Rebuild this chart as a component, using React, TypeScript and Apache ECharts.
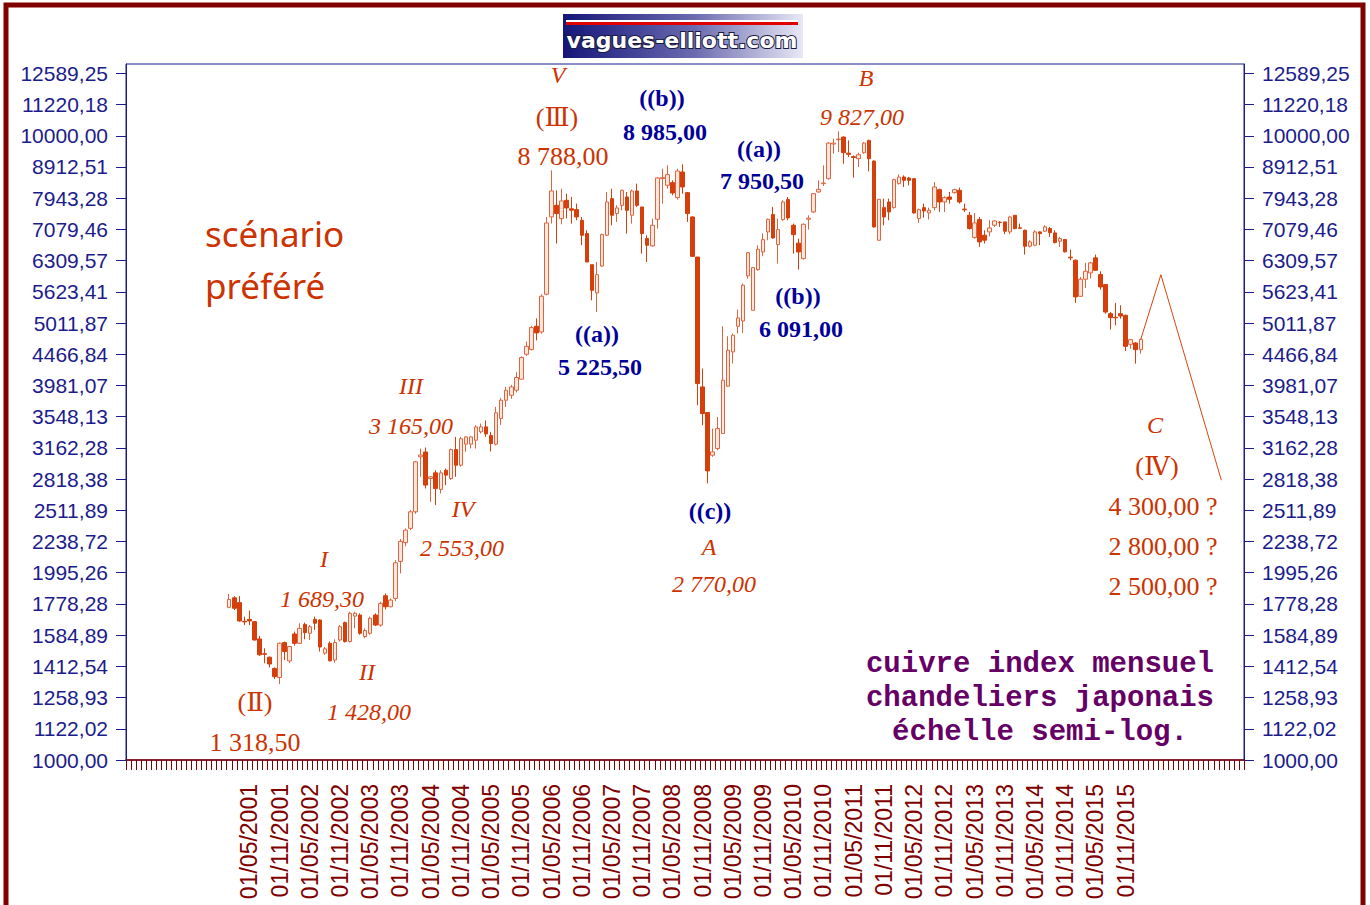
import React, { useEffect, useRef } from 'react';
import * as echarts from 'echarts';

// x axis: monthly categories, May 1999 .. Oct 2017
const firstYear = 1999;
const firstMonth = 5;
const monthCount = 222;
const dataStartIndex = 20; // Jan 2001
const labelFirstIndex = 24; // 01/05/2001
const labelLastIndex = 198; // 01/11/2015

// monthly copper index candles, Jan 2001 .. Feb 2016
const opens = [
  1756, 1819, 1787, 1668, 1680, 1666, 1563, 1480, 1461, 1402, 1356, 1542,
  1441, 1592, 1538, 1649, 1596, 1680, 1676, 1483, 1538, 1446, 1557, 1660,
  1548, 1700, 1707, 1577, 1596, 1707, 1645, 1833, 1760, 1815, 2080, 2230,
  2350, 2498, 3060, 3115, 2825, 2884, 2713, 2912, 2825, 3143, 2967, 3206,
  3206, 3253, 3355, 3417, 3310, 3206, 3525, 3770, 3840, 3912, 4074, 4467,
  4545, 4953, 4850, 5573, 7413, 7738, 7368, 7882, 7640, 7616, 7323, 6972,
  6216, 5600, 6185, 6929, 7931, 7505, 7738, 7980, 7459, 8158, 7691, 6845,
  6662, 7350, 8540, 8330, 8412, 7960, 8750, 8108, 7413, 6394, 3960, 3602,
  3078, 3155, 3334, 3970, 4505, 4953, 5051, 5964, 5253, 6105, 6515, 7014,
  7477, 6693, 7341, 7902, 7189, 6730, 6357, 7350, 7551, 8128, 8381, 8537,
  9700, 9860, 9953, 9380, 9260, 9189, 9395, 9832, 9110, 6801, 7672, 7834,
  7672, 8381, 8589, 8558, 8537, 7368, 7672, 7523, 7672, 8198, 7834, 7980,
  8108, 8178, 7630, 7459, 6869, 7341, 6929, 7015, 7189, 7270, 7278, 7015,
  7459, 7120, 7058, 6654, 6679, 7015, 7032, 7101, 6989, 6778, 6820, 6390,
  6319, 5532, 5891, 6030, 6374, 5993, 5776, 5188, 5120, 5188, 5157, 4633,
  4656, 4543,
];
const closes = [
  1808, 1750, 1670, 1664, 1670, 1557, 1474, 1477, 1425, 1360, 1538, 1492,
  1520, 1538, 1625, 1600, 1635, 1656, 1517, 1507, 1442, 1542, 1635, 1548,
  1718, 1718, 1596, 1612, 1687, 1645, 1782, 1760, 1804, 2070, 2240, 2335,
  2498, 3004, 3080, 2757, 2842, 2723, 2884, 2860, 3143, 2967, 3271, 3293,
  3293, 3417, 3417, 3330, 3214, 3599, 3770, 3912, 3960, 4100, 4413, 4600,
  4929, 4832, 5533, 7251, 8158, 7505, 7863, 7663, 7600, 7413, 6929, 6277,
  5655, 5991, 6946, 7834, 7459, 7663, 8178, 7597, 8158, 7738, 6972, 6679,
  7189, 8559, 8570, 8664, 8098, 8782, 8279, 7505, 6410, 4009, 3589, 2905,
  3116, 3396, 4059, 4533, 4791, 5107, 5762, 6499, 6150, 6579, 6818, 7350,
  6860, 7075, 7834, 7386, 6945, 6515, 7216, 7380, 8078, 8208, 8400, 9735,
  9735, 9880, 9395, 9340, 9230, 9326, 9735, 9189, 7145, 7911, 7413, 7551,
  8506, 8589, 8485, 8485, 7523, 7616, 7578, 7597, 8279, 7834, 7960, 7911,
  8198, 7834, 7610, 7101, 7251, 6761, 6803, 7119, 7305, 7260, 7032, 7413,
  7101, 7110, 6654, 6761, 7015, 6972, 7145, 6997, 6745, 6845, 6517, 6375,
  5519, 5891, 6067, 6258, 6089, 5726, 5220, 5113, 5110, 5144, 4599, 4714,
  4543, 4719,
];
const lows = [
  1750, 1739, 1666, 1645, 1645, 1553, 1468, 1429, 1407, 1348, 1323, 1446,
  1429, 1525, 1534, 1561, 1557, 1616, 1492, 1474, 1438, 1432, 1548, 1542,
  1542, 1625, 1587, 1567, 1587, 1639, 1635, 1743, 1756, 1796, 1990, 2200,
  2335, 2480, 2842, 2723, 2592, 2561, 2673, 2756, 2808, 2842, 2950, 3116,
  3155, 3155, 3334, 3293, 3120, 3190, 3440, 3679, 3790, 3880, 4070, 4440,
  4530, 4700, 4820, 5552, 7233, 6720, 7215, 7368, 7233, 7323, 6679, 6277,
  5450, 5220, 6162, 6904, 7189, 7278, 7597, 6972, 7233, 7691, 6473, 6277,
  6638, 7101, 7786, 8229, 8029, 7902, 8078, 7278, 6394, 3702, 3438, 2774,
  3060, 3135, 3334, 3960, 4316, 4821, 4833, 5905, 5253, 6075, 6412, 6801,
  6843, 6241, 7305, 7323, 6475, 6105, 6333, 7075, 7523, 8108, 8310, 8506,
  9360, 9418, 9021, 9246, 8568, 8911, 9360, 8770, 7127, 6801, 7189, 7323,
  7644, 8360, 8279, 8330, 7505, 7251, 7395, 7341, 7597, 7551, 7551, 7786,
  8078, 7786, 7551, 7075, 6843, 6638, 6720, 6904, 7145, 7145, 6955, 6955,
  7083, 7101, 6453, 6622, 6654, 6679, 7015, 6887, 6720, 6638, 6501, 6319,
  5398, 5519, 5705, 5905, 6074, 5670, 5188, 4891, 4970, 5094, 4520, 4560,
  4316, 4476,
];
const highs = [
  1845, 1830, 1830, 1697, 1735, 1670, 1581, 1510, 1465, 1407, 1542, 1548,
  1523, 1606, 1656, 1660, 1645, 1697, 1680, 1517, 1548, 1561, 1645, 1666,
  1728, 1728, 1718, 1625, 1697, 1718, 1793, 1849, 1815, 2090, 2260, 2350,
  2514, 3015, 3155, 3166, 2850, 2912, 2912, 2930, 3155, 3293, 3293, 3300,
  3300, 3438, 3460, 3500, 3355, 3679, 3800, 3960, 3990, 4180, 4430, 4680,
  4960, 5100, 5573, 7413, 8803, 8178, 8229, 8078, 7980, 7786, 7413, 7058,
  6216, 6277, 6972, 8128, 8229, 7738, 8198, 8128, 8198, 8381, 7691, 6929,
  7368, 8590, 8857, 8966, 8485, 8857, 9000, 8128, 7430, 6394, 4237, 3602,
  3396, 3545, 4953, 4774, 4821, 5266, 5798, 6515, 6165, 6677, 6972, 7368,
  7691, 7368, 7882, 7980, 7233, 6843, 7233, 7459, 8098, 8485, 8966, 9771,
  9893, 10163, 9978, 9832, 9303, 9395, 9771, 9856, 9130, 7911, 7931, 7931,
  8537, 8674, 8642, 8589, 8537, 7644, 7786, 7672, 8433, 8229, 7999, 8128,
  8229, 8259, 7786, 7551, 7523, 7413, 7058, 7323, 7323, 7296, 7278, 7432,
  7459, 7233, 7075, 6803, 7058, 7032, 7189, 7145, 7058, 6887, 6820, 6573,
  6335, 5942, 6258, 6281, 6453, 6067, 5783, 5220, 5398, 5352, 5169, 4725,
  4673, 4731,
];

// projected path (wave C of (IV))
const projectionIndex = [201, 205, 217];
const projectionValue = [4719, 5990, 2807];

// y ticks: semi-log scale, 1000 .. 12589,25 every 10^0.05
const yMinLog = 3;
const yMaxLog = 4.115;
const yTickStep = 0.05;
const yTickCount = 23;

const RED = '#cc3300';
const NAVY = '#000099';
const AXIS_NAVY = '#1c1c8c';
const MAROON = '#800000';

type Ann = [string, number, number, 'it' | 'up' | 'nv'];
const annotations: Ann[] = [
  ['V', 558, 75, 'it'],
  ['(\u2162)', 557, 117, 'up'],
  ['8 788,00', 563, 156, 'up'],
  ['B', 866, 78, 'it'],
  ['9 827,00', 862, 117, 'it'],
  ['III', 411, 386, 'it'],
  ['3 165,00', 411, 426, 'it'],
  ['IV', 463, 509, 'it'],
  ['2 553,00', 462, 548, 'it'],
  ['I', 324, 559, 'it'],
  ['1 689,30', 322, 599, 'it'],
  ['II', 367, 672, 'it'],
  ['1 428,00', 369, 712, 'it'],
  ['(\u2161)', 255, 702, 'up'],
  ['1 318,50', 255, 742, 'up'],
  ['A', 709, 547, 'it'],
  ['2 770,00', 714, 584, 'it'],
  ['C', 1155, 425, 'it'],
  ['(\u2163)', 1157, 466, 'up'],
  ['4 300,00 ?', 1163, 506, 'up'],
  ['2 800,00 ?', 1163, 546, 'up'],
  ['2 500,00 ?', 1163, 586, 'up'],
  ['((b))', 662, 98, 'nv'],
  ['8 985,00', 665, 132, 'nv'],
  ['((a))', 759, 149, 'nv'],
  ['7 950,50', 762, 181, 'nv'],
  ['((b))', 798, 296, 'nv'],
  ['6 091,00', 801, 329, 'nv'],
  ['((a))', 597, 334, 'nv'],
  ['5 225,50', 600, 367, 'nv'],
  ['((c))', 710, 511, 'nv'],
];

const infoLines = ['cuivre index mensuel', 'chandeliers japonais', 'échelle semi-log.'];

const SERIF = '"Liberation Serif", "DejaVu Serif", serif';

export default function App() {
  const ref = useRef<HTMLDivElement>(null);

  useEffect(() => {
    if (!ref.current) return;
    const chart = echarts.init(ref.current, undefined, { renderer: 'svg' });

    const categories = Array.from({ length: monthCount }, (_, i) => {
      const m0 = firstMonth - 1 + i;
      const y = firstYear + Math.floor(m0 / 12);
      const m = (m0 % 12) + 1;
      return `01/${String(m).padStart(2, '0')}/${y}`;
    });

    const candleData = categories.map((_, i) => {
      const j = i - dataStartIndex;
      if (j < 0 || j >= opens.length) return '-';
      return [
        Math.log10(opens[j]),
        Math.log10(closes[j]),
        Math.log10(lows[j]),
        Math.log10(highs[j]),
      ];
    });

    const projData = projectionIndex.map((idx, k) => [idx, Math.log10(projectionValue[k])]);

    const yTicks = Array.from({ length: yTickCount }, (_, k) => +(yMinLog + k * yTickStep).toFixed(4));
    const fmt = (v: number) => Math.pow(10, v).toFixed(2).replace('.', ',');

    const yAxisBase = (position: 'left' | 'right') => ({
      type: 'value',
      position,
      min: yMinLog,
      max: yMaxLog,
      axisLine: { show: true, lineStyle: { color: AXIS_NAVY, width: 1 } },
      axisTick: { show: true, length: 10, customValues: yTicks, lineStyle: { color: AXIS_NAVY } },
      axisLabel: {
        customValues: yTicks,
        formatter: fmt,
        color: AXIS_NAVY,
        fontSize: 21,
        fontFamily: '"Liberation Sans", Arial, sans-serif',
        margin: 18,
      },
      splitLine: { show: false },
    });

    const graphics: any[] = [
      {
        type: 'rect',
        shape: { x: 6, y: 5, width: 1357, height: 1000 },
        style: { fill: 'none', stroke: MAROON, lineWidth: 5 },
        z: 100,
      },
      {
        type: 'rect',
        shape: { x: 563, y: 14, width: 240, height: 44 },
        style: {
          fill: new echarts.graphic.LinearGradient(0, 0, 1, 0, [
            { offset: 0, color: '#15157a' },
            { offset: 0.55, color: '#6b6bb0' },
            { offset: 1, color: '#e8e8f6' },
          ]),
        },
        z: 100,
      },
      {
        type: 'rect',
        shape: { x: 566, y: 20, width: 232, height: 2 },
        style: { fill: '#ffffff' },
        z: 101,
      },
      {
        type: 'rect',
        shape: { x: 566, y: 22, width: 232, height: 3 },
        style: { fill: '#e00000' },
        z: 101,
      },
      {
        type: 'text',
        x: 682,
        y: 40,
        style: {
          text: 'vagues-elliott.com',
          font: 'bold 22px "DejaVu Sans", sans-serif',
          fill: '#ffffff',
          stroke: '#1a1a40',
          lineWidth: 2,
          textAlign: 'center',
          textVerticalAlign: 'middle',
          align: 'center',
          verticalAlign: 'middle',
        },
        z: 102,
      },
      {
        type: 'text',
        x: 205,
        y: 233,
        style: {
          text: 'scénario',
          font: '35px "Noto Sans", sans-serif',
          fill: RED,
          textAlign: 'left',
          textVerticalAlign: 'middle',
          align: 'left',
          verticalAlign: 'middle',
        },
        z: 100,
      },
      {
        type: 'text',
        x: 205,
        y: 285,
        style: {
          text: 'préféré',
          font: '35px "Noto Sans", sans-serif',
          fill: RED,
          textAlign: 'left',
          textVerticalAlign: 'middle',
          align: 'left',
          verticalAlign: 'middle',
        },
        z: 100,
      },
    ];

    infoLines.forEach((t, i) => {
      graphics.push({
        type: 'text',
        x: 1040,
        y: 664 + i * 34,
        style: {
          text: t,
          font: 'bold 29px "Liberation Mono", "DejaVu Sans Mono", monospace',
          fill: '#660066',
          textAlign: 'center',
          textVerticalAlign: 'middle',
          align: 'center',
          verticalAlign: 'middle',
        },
        z: 100,
      });
    });

    annotations.forEach(([t, x, y, kind]) => {
      const font =
        kind === 'it'
          ? `italic 24px ${SERIF}`
          : kind === 'up'
          ? `26px ${SERIF}`
          : `bold 24px ${SERIF}`;
      graphics.push({
        type: 'text',
        x,
        y,
        style: {
          text: t,
          font,
          fill: kind === 'nv' ? NAVY : RED,
          textAlign: 'center',
          textVerticalAlign: 'middle',
          align: 'center',
          verticalAlign: 'middle',
        },
        z: 100,
      });
    });

    chart.setOption({
      animation: false,
      backgroundColor: '#ffffff',
      grid: {
        left: 126,
        right: 126,
        top: 64,
        bottom: 145,
        show: true,
        borderColor: AXIS_NAVY,
        borderWidth: 1,
        backgroundColor: '#ffffff',
      },
      xAxis: {
        type: 'category',
        data: categories,
        boundaryGap: true,
        axisLine: { show: true, lineStyle: { color: MAROON, width: 1.5 } },
        axisTick: { show: true, interval: 0, length: 10, lineStyle: { color: MAROON } },
        axisLabel: {
          interval: (i: number) =>
            i >= labelFirstIndex && i <= labelLastIndex && (i - labelFirstIndex) % 6 === 0,
          rotate: 90,
          color: MAROON,
          fontSize: 23,
          fontFamily: '"Liberation Sans", Arial, sans-serif',
          margin: 24,
        },
        splitLine: { show: false },
      },
      yAxis: [yAxisBase('left'), yAxisBase('right')],
      series: [
        {
          type: 'candlestick',
          data: candleData,
          yAxisIndex: 0,
          barWidth: 4,
          itemStyle: {
            color: '#fde6dc',
            color0: '#d43f0b',
            borderColor: '#e0653f',
            borderColor0: '#d43f0b',
            borderWidth: 1,
          },
        },
        {
          type: 'line',
          data: projData,
          yAxisIndex: 0,
          symbol: 'none',
          lineStyle: { color: '#d9440f', width: 1 },
        },
      ],
      graphic: graphics,
    });

    return () => chart.dispose();
  }, []);

  return (
    <div
      ref={ref}
      style={{ position: 'absolute', left: 0, top: 0, width: 1370, height: 905 }}
    />
  );
}
